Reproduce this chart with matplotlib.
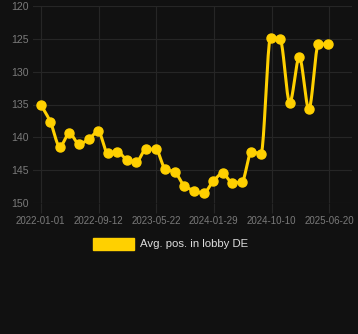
"""
Average position in lobby DE, dark theme line chart
"""

import matplotlib.pyplot as plt
import matplotlib.dates as mdates
import numpy as np

dates = [
    '2022-01-01', '2022-02-12', '2022-03-26', '2022-05-07', '2022-06-18',
    '2022-07-30', '2022-09-10', '2022-10-22', '2022-12-03', '2023-01-14',
    '2023-02-25', '2023-04-08', '2023-05-20', '2023-07-01', '2023-08-12',
    '2023-09-23', '2023-11-04', '2023-12-16', '2024-01-27', '2024-03-09',
    '2024-04-20', '2024-06-01', '2024-07-13', '2024-08-24', '2024-10-05',
    '2024-11-16', '2024-12-28', '2025-02-08', '2025-03-22', '2025-05-03',
    '2025-06-14',
]
positions = [
    135.0, 137.6, 141.4, 139.4, 141.0, 140.3, 139.1, 142.4, 142.2, 143.4,
    143.7, 141.8, 141.8, 144.8, 145.3, 147.4, 148.1, 148.5, 146.7, 145.5,
    146.9, 146.8, 142.2, 142.5, 124.8, 125.1, 134.7, 127.8, 135.7, 125.8,
    125.8,
]
tick_dates = ['2022-01-01', '2022-09-12', '2023-05-22',
              '2024-01-29', '2024-10-10', '2025-06-20']
series_name = 'Avg. pos. in lobby DE'

BG = '#111111'
GRID = '#262626'
GOLD = '#ffd000'


def monotone_curve(x, y, n=20):
    """Monotone cubic (Fritsch-Carlson) curve through the points"""
    x = np.asarray(x, float)
    y = np.asarray(y, float)
    h = np.diff(x)
    d = np.diff(y) / h
    m = np.zeros_like(y)
    m[0], m[-1] = d[0], d[-1]
    for i in range(1, len(y) - 1):
        if d[i - 1] * d[i] > 0:
            w1 = 2 * h[i] + h[i - 1]
            w2 = h[i] + 2 * h[i - 1]
            m[i] = (w1 + w2) / (w1 / d[i - 1] + w2 / d[i])
    xs, ys = [], []
    for i in range(len(h)):
        t = np.linspace(0, 1, n, endpoint=False)
        h00 = 2 * t**3 - 3 * t**2 + 1
        h10 = t**3 - 2 * t**2 + t
        h01 = -2 * t**3 + 3 * t**2
        h11 = t**3 - t**2
        xs.append(x[i] + t * h[i])
        ys.append(h00 * y[i] + h10 * h[i] * m[i] + h01 * y[i + 1]
                  + h11 * h[i] * m[i + 1])
    xs.append([x[-1]])
    ys.append([y[-1]])
    return np.concatenate(xs), np.concatenate(ys)


x = mdates.datestr2num(dates)
xs, ys = monotone_curve(x, positions)

fig = plt.figure(figsize=(3.58, 3.34), dpi=100, facecolor=BG)
ax = fig.add_axes([33 / 358, (334 - 203) / 334, (352 - 33) / 358, 197 / 334])
ax.set_facecolor(BG)

ax.plot(xs, ys, color=GOLD, lw=2.2, solid_capstyle='round', zorder=3)
ax.plot(x, positions, 'o', color=GOLD, ms=6.5, zorder=4)

x0 = mdates.datestr2num('2022-01-01')
ax.set_xlim(x0 - 33.8, x0 + 1365)
ax.set_ylim(150, 120)
ax.set_yticks([120, 125, 130, 135, 140, 145, 150])
ax.set_xticks(mdates.datestr2num(tick_dates))
ax.set_xticklabels(tick_dates)

ax.grid(True, color=GRID, lw=0.8)
for s in ax.spines.values():
    s.set_visible(False)
ax.tick_params(axis='x', colors=GRID, length=7, width=0.8, pad=2,
               labelcolor='#7a7a7a', labelsize=7)
ax.tick_params(axis='y', length=0, pad=3, labelcolor='#7a7a7a',
               labelsize=7.6)
for lab in ax.get_xticklabels() + ax.get_yticklabels():
    lab.set_fontfamily('Liberation Sans')

# legend drawn as a box and a label
fig.patches.append(plt.Rectangle((93 / 358, (334 - 250) / 334), 41 / 358,
                                 12 / 334, transform=fig.transFigure,
                                 color=GOLD, figure=fig))
fig.text(140 / 358, (334 - 244) / 334, series_name, color='#dddddd',
         fontsize=8.2, family='Liberation Sans', va='center')

fig.savefig('out.png', dpi=100, facecolor=BG)
